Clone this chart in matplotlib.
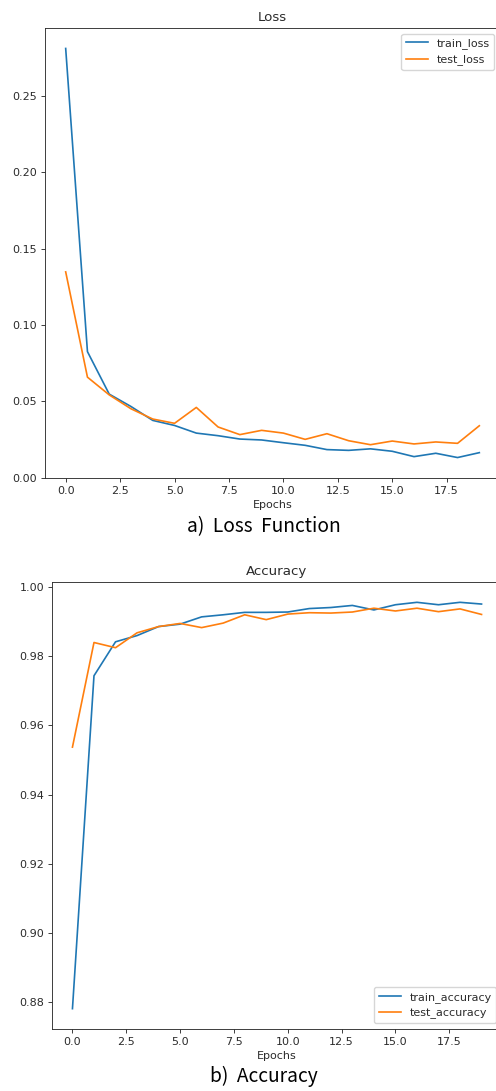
import matplotlib
matplotlib.use("Agg")
import matplotlib.pyplot as plt

epochs = list(range(20))
train_loss = [0.281, 0.0826, 0.0548, 0.0467, 0.0376, 0.0343, 0.0293, 0.0276, 0.0254, 0.0248,
              0.0230, 0.0213, 0.0185, 0.0180, 0.0190, 0.0174, 0.0139, 0.0161, 0.0133, 0.0165]
test_loss = [0.1348, 0.0659, 0.0543, 0.0452, 0.0385, 0.0357, 0.0461, 0.0333, 0.0283, 0.0311,
             0.0293, 0.0252, 0.0289, 0.0243, 0.0217, 0.0241, 0.0222, 0.0235, 0.0226, 0.0341]
train_acc = [0.8782, 0.9743, 0.9841, 0.9859, 0.9885, 0.9892, 0.9913, 0.9919, 0.9926, 0.9926,
             0.9927, 0.9937, 0.9940, 0.9946, 0.9933, 0.9948, 0.9955, 0.9948, 0.9955, 0.9950]
test_acc = [0.9537, 0.9839, 0.9824, 0.9867, 0.9885, 0.9894, 0.9882, 0.9895, 0.9919, 0.9905,
            0.9921, 0.9925, 0.9924, 0.9927, 0.9938, 0.9930, 0.9938, 0.9928, 0.9936, 0.9920]

s = 0.8
plt.rcParams.update({
    "font.size": 10 * s,
    "axes.titlesize": 12 * s,
    "axes.labelsize": 10 * s,
    "xtick.labelsize": 10 * s,
    "ytick.labelsize": 10 * s,
    "legend.fontsize": 10 * s,
    "lines.linewidth": 1.5 * s,
    "axes.linewidth": 0.8 * s,
    "xtick.major.size": 3.5 * s,
    "ytick.major.size": 3.5 * s,
    "xtick.major.width": 0.8 * s,
    "ytick.major.width": 0.8 * s,
    "xtick.major.pad": 3.5 * s,
    "ytick.major.pad": 3.5 * s,
    "axes.titlepad": 6 * s,
    "axes.labelpad": 4 * s,
    "text.color": "#2b2b2b",
    "axes.edgecolor": "#2b2b2b",
    "xtick.color": "#2b2b2b",
    "ytick.color": "#2b2b2b",
    "axes.labelcolor": "#2b2b2b",
})

W, H = 496, 1091
fig = plt.figure(figsize=(W / 100, H / 100), dpi=100)

def pos(l, t, r, b):
    return [l / W, 1 - b / H, (r - l) / W, (b - t) / H]

ax1 = fig.add_axes(pos(45, 28, 500, 478))
ax1.plot(epochs, train_loss, label="train_loss")
ax1.plot(epochs, test_loss, label="test_loss")
ax1.set_title("Loss")
ax1.set_xlabel("Epochs")
ax1.legend(loc="upper right")

ax2 = fig.add_axes(pos(52, 582, 502, 1029))
ax2.plot(epochs, train_acc, label="train_accuracy")
ax2.plot(epochs, test_acc, label="test_accuracy")
ax2.set_title("Accuracy")
ax2.set_xlabel("Epochs")
ax2.legend(loc="lower right")

cap_font = ["Noto Sans CJK KR", "DejaVu Sans"]
fig.text(264 / W, 1 - 527 / H, "a)  Loss  Function", ha="center", va="center",
         fontsize=13.8, family=cap_font, color="black")
fig.text(264 / W, 1 - 1076 / H, "b)  Accuracy", ha="center", va="center",
         fontsize=13.8, family=cap_font, color="black")

fig.savefig("out.png", dpi=100)
